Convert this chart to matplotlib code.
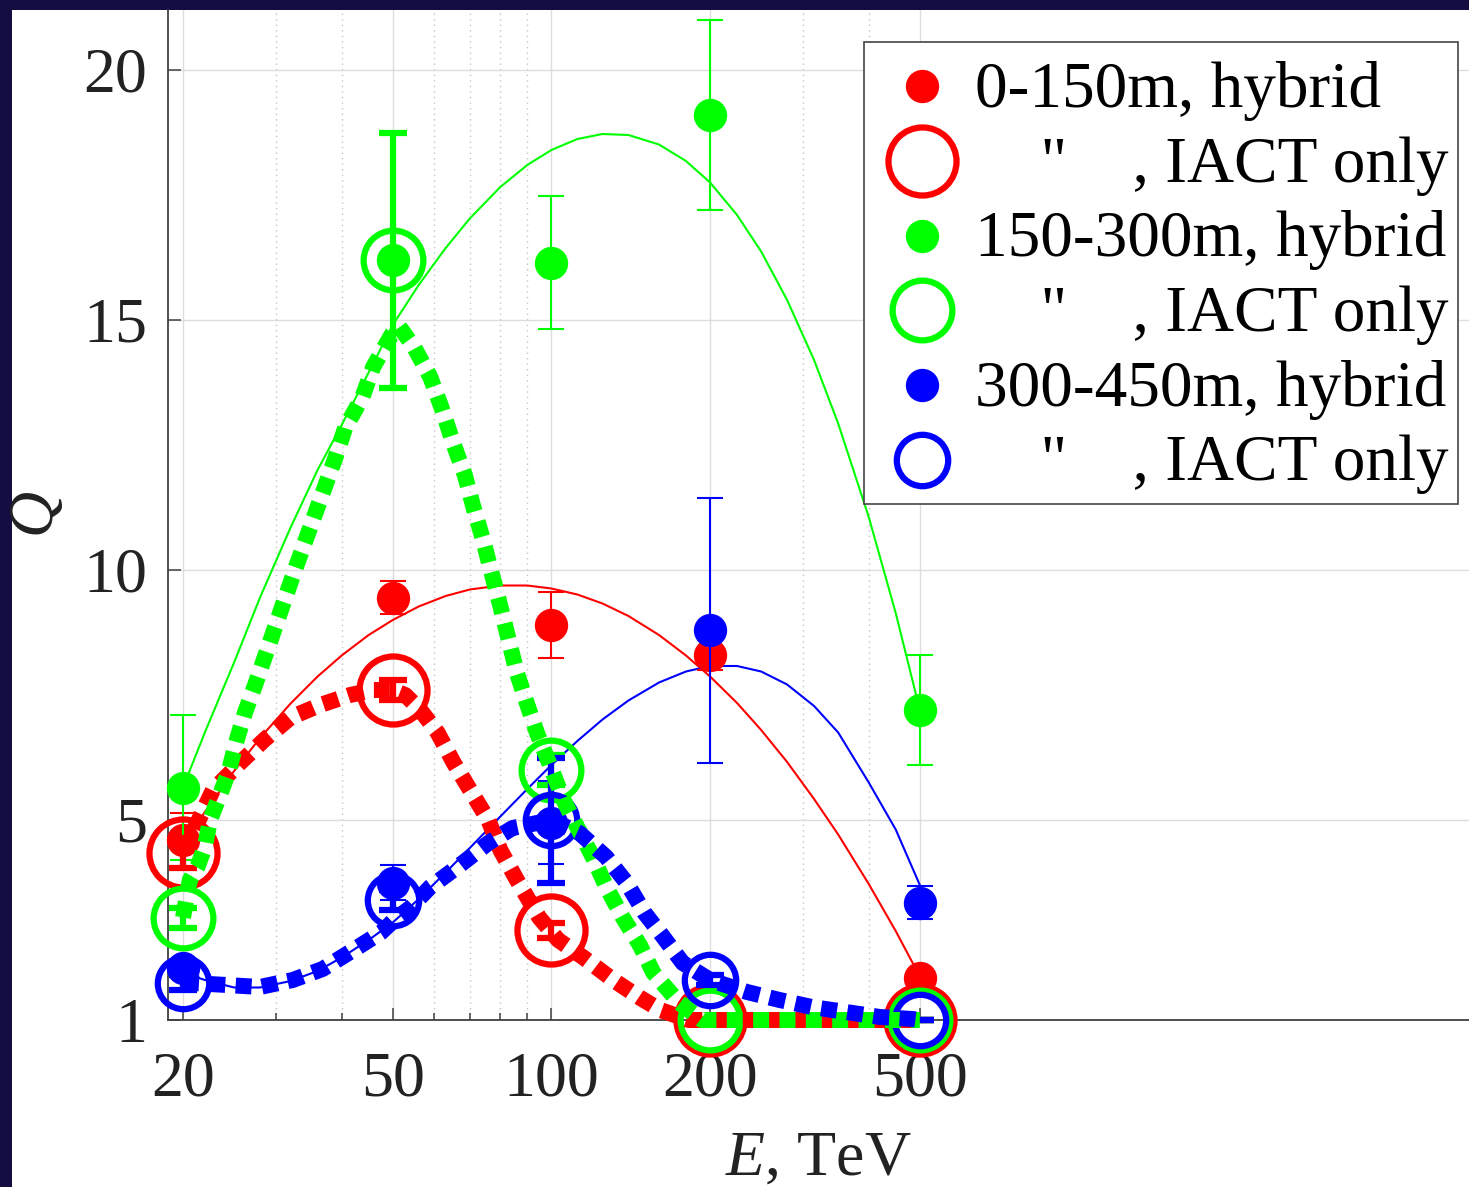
import matplotlib.pyplot as plt
from matplotlib.lines import Line2D
from matplotlib.legend_handler import HandlerLine2D
from matplotlib.patches import Rectangle
from matplotlib.ticker import NullFormatter, NullLocator

plt.rcParams['font.family'] = 'Liberation Serif'
plt.rcParams['mathtext.fontset'] = 'custom'
plt.rcParams['mathtext.rm'] = 'Liberation Serif'
plt.rcParams['mathtext.it'] = 'Liberation Serif:italic'

# energies of the measured points, TeV
energy = [20, 50, 100, 200, 500]

# hybrid reconstruction (filled points)
q_hyb_red = [4.6, 9.45, 8.9, 8.3, 1.85]
err_hyb_red = [0.55, 0.33, 0.66, 0.3, 0.1]
q_hyb_green = [5.65, 16.2, 16.15, 19.1, 7.2]
err_hyb_green = [1.45, 2.55, 1.33, 1.9, 1.1]
q_hyb_blue = [2.05, 3.75, 4.95, 8.8, 3.35]
err_hyb_blue = [0.15, 0.35, 0.83, 2.65, 0.33]

# IACT only (open circles)
q_iact_red = [4.35, 7.6, 2.8, 1.0, 1.0]
err_iact_red = [0.3, 0.2, 0.15, 0.0, 0.0]
q_iact_green = [3.05, 16.2, 6.0, 1.0, 1.0]
err_iact_green = [0.2, 2.55, 0.3, 0.0, 0.0]
q_iact_blue = [1.75, 3.4, 5.0, 1.8, 1.0]
err_iact_blue = [0.15, 0.2, 1.25, 0.1, 0.0]

# solid curves through the hybrid points
fit_e = [20, 22, 25, 28, 32, 36, 40, 45, 50, 56, 63, 70, 80, 90, 100, 112, 125, 140, 160, 180,
         200, 225, 250, 280, 315, 350, 400, 450, 500]
fit_q_red = [4.49, 5.16, 5.98, 6.64, 7.33, 7.87, 8.29, 8.7, 9.0, 9.27, 9.48, 9.61, 9.69, 9.69, 9.63,
             9.51, 9.33, 9.08, 8.7, 8.29, 7.87, 7.34, 6.8, 6.16, 5.42, 4.71, 3.72, 2.78, 1.87]
fit_q_green = [5.65, 6.75, 8.15, 9.45, 10.85, 12.0, 12.9, 13.95, 14.9, 15.7, 16.44, 17.03, 17.66, 18.1,
               18.4, 18.62, 18.72, 18.7, 18.51, 18.18, 17.75, 17.1, 16.37, 15.4, 14.2, 12.93, 11.06,
               9.14, 7.2]
fit_q_blue = [1.95, 1.8, 1.65, 1.65, 1.78, 1.98, 2.25, 2.6, 2.95, 3.42, 3.95, 4.44, 5.07, 5.62, 6.1,
              6.58, 7.01, 7.39, 7.75, 7.97, 8.08, 8.08, 7.97, 7.71, 7.28, 6.75, 5.75, 4.81, 3.7]

# dotted curves through the IACT-only points
dot_e_red = [20, 21.2, 22.8, 25.7, 28.5, 32, 36.4, 41.5, 46, 50, 52.8, 56.4, 60.8, 65.2, 70.1, 75.9,
             80, 86, 94.8, 103, 115, 131, 147, 161, 182, 200, 300, 500]
dot_q_red = [4.35, 4.9, 5.6, 6.15, 6.6, 7.05, 7.3, 7.5, 7.6, 7.6, 7.5, 7.2, 6.75, 6.15, 5.6, 5.0,
             4.4, 3.8, 3.05, 2.6, 2.25, 1.8, 1.45, 1.2, 1.0, 1.0, 1.0, 1.0]
dot_e_green = [20, 20.6, 21.3, 22, 22.5, 23.5, 24.4, 25.3, 26.2, 27.4, 32.6, 38.9, 40.6, 43.8, 45.9,
               49.7, 51.5, 55, 58.9, 62.1, 65.1, 68.5, 71.1, 74.2, 77, 80, 82.9, 85.9, 89.8, 93.9,
               99.7, 105.4, 111.9, 119.8, 127.1, 136.4, 147.1, 156.2, 175, 193, 200, 300, 500]
dot_q_green = [3.05, 3.8, 4.06, 4.46, 5.0, 5.5, 5.96, 6.6, 7.14, 7.7, 10.0, 12.24, 12.84, 13.46, 14.06,
               14.7, 14.86, 14.44, 13.86, 13.2, 12.54, 11.9, 11.26, 10.6, 9.94, 9.28, 8.62, 7.96, 7.34,
               6.74, 6.06, 5.4, 4.86, 4.26, 3.66, 3.06, 2.5, 1.94, 1.34, 1.0, 1.0, 1.0, 1.0]
dot_e_blue = [20, 24.2, 28, 32.3, 36.8, 42.1, 47.5, 50.3, 53.9, 58.9, 67.1, 75.9, 84.4, 100, 113, 127,
              139, 150, 163, 177.5, 200, 235, 271, 312, 362, 420, 484, 500]
dot_q_blue = [1.75, 1.7, 1.66, 1.8, 2.02, 2.4, 2.75, 3.0, 3.24, 3.66, 4.1, 4.54, 4.84, 5.0, 4.74, 4.26,
              3.74, 3.15, 2.66, 2.14, 1.8, 1.56, 1.4, 1.26, 1.16, 1.06, 1.02, 1.0]

labels = ['0-150m, hybrid', '    "    , IACT only',
          '150-300m, hybrid', '    "    , IACT only',
          '300-450m, hybrid', '    "    , IACT only']

series = [
    ('#ff0000', q_hyb_red, err_hyb_red, q_iact_red, err_iact_red, fit_q_red, dot_e_red, dot_q_red, 49),
    ('#00ff00', q_hyb_green, err_hyb_green, q_iact_green, err_iact_green, fit_q_green,
     dot_e_green, dot_q_green, 43),
    ('#0000ff', q_hyb_blue, err_hyb_blue, q_iact_blue, err_iact_blue, fit_q_blue,
     dot_e_blue, dot_q_blue, 37),
]


class LowerHandler(HandlerLine2D):
    # put the legend markers level with the middle of the text
    def create_artists(self, legend, orig_handle, xdescent, ydescent, width, height, fontsize, trans):
        return super().create_artists(legend, orig_handle, xdescent, ydescent, width,
                                      height - 10, fontsize, trans)


W, H = 1469, 1187
fig = plt.figure(figsize=(W / 100, H / 100), dpi=100, facecolor='#140d42')
fig.add_artist(Rectangle((12 / W, 0), 1, (H - 10) / H, transform=fig.transFigure,
                         facecolor='white', edgecolor='none', zorder=-10))

ax = fig.add_axes([168 / W, 167 / H, (W - 168) / W, 1010 / H])
ax.set_xscale('log')
ax.set_xlim(18.73, 5507)
ax.set_ylim(1, 21.2)


def unclip(container):
    for a in container.get_children():
        a.set_clip_on(False)


handles = []
for c, qh, eh, qi, ei, fq, de, dq, ring in series:
    ax.plot(fit_e, fq, color=c, lw=1.5, zorder=3, clip_on=False)
    eb = ax.errorbar(energy, qh, yerr=eh, fmt='none', ecolor=c, elinewidth=1.5,
                     capsize=9.7, capthick=1.5, zorder=4)
    unclip(eb)
    ax.plot(energy, qh, ls='none', marker='o', ms=24, mew=0, color=c, zorder=4, clip_on=False)
    eb2 = ax.errorbar(energy, qi, yerr=ei, fmt='none', ecolor=c, elinewidth=4.5,
                      capsize=10, capthick=4.5, zorder=5)
    unclip(eb2)
    ax.plot(energy, qi, ls='none', marker='o', ms=ring, mfc='none', mec=c, mew=4.5,
            zorder=5, clip_on=False)
    handles.append(Line2D([], [], ls='none', marker='o', ms=24, mew=0, color=c))
    handles.append(Line2D([], [], ls='none', marker='o', ms=ring, mfc='none', mec=c, mew=4.5))

for c, qh, eh, qi, ei, fq, de, dq, ring in series:
    ax.plot(de, dq, color=c, lw=11.5, ls=(0, (1, 0.65)), dash_capstyle='butt',
            zorder=6, clip_on=False)

# axes styling
ax.set_xticks([20, 50, 100, 200, 500])
ax.set_xticklabels(['20', '50', '100', '200', '500'])
ax.set_xticks([30, 40, 60, 70, 80, 90, 300, 400], minor=True)
ax.xaxis.set_minor_formatter(NullFormatter())
ax.set_yticks([1, 5, 10, 15, 20])
ax.set_yticklabels(['1', '5', '10', '15', '20'])
ax.yaxis.set_minor_locator(NullLocator())
ax.tick_params(which='both', direction='in', color='#404040', labelcolor='#222222',
               labelsize=46, pad=15)
ax.tick_params(axis='x', which='major', pad=23)
ax.tick_params(which='major', length=9, width=1.1)
ax.tick_params(which='minor', length=5, width=1.1)

ax.grid(True, which='major', color='#dddddd', lw=1.0)
ax.grid(True, which='minor', axis='x', color='#c4c4c4', ls=(0, (1, 3)), lw=1.0)
ax.set_axisbelow(True)

for s in ['top', 'right']:
    ax.spines[s].set_visible(False)
for s in ['left', 'bottom']:
    ax.spines[s].set_color('#404040')
    ax.spines[s].set_linewidth(1.3)

ax.set_xlabel('$E$, TeV', fontsize=46, labelpad=15, color='#222222')
ax.set_ylabel('$Q$', fontsize=46, color='#222222')
ax.yaxis.set_label_coords(-0.078, 0.5)

leg = ax.legend(handles, labels, loc='upper right', bbox_to_anchor=(1458 / W, 1 - 42 / H),
                bbox_transform=fig.transFigure, fontsize=47, frameon=True, fancybox=False,
                framealpha=1, edgecolor='#444444', borderpad=0.15, labelspacing=0.086,
                handlelength=1.5, handleheight=1.18, handletextpad=0.05, borderaxespad=0,
                handler_map={Line2D: LowerHandler()})
leg.get_frame().set_linewidth(1.2)
leg.set_zorder(10)

fig.savefig('out.png', dpi=100, facecolor=fig.get_facecolor())
